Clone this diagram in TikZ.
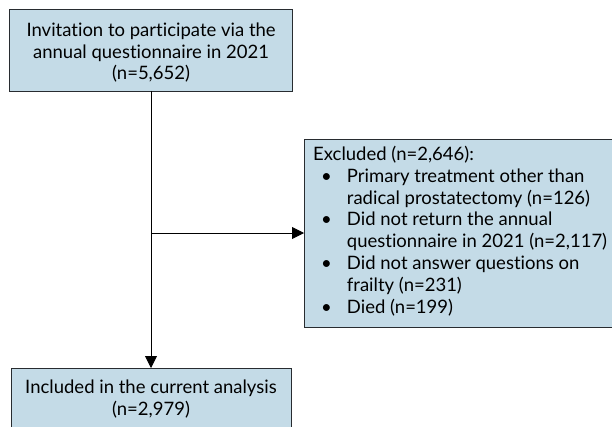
\documentclass[tikz,border=0pt]{standalone}
\usepackage{fontspec}
\setmainfont[Ligatures={NoCommon,NoRare,NoDiscretionary}]{Lato}
\usetikzlibrary{arrows.meta}
\definecolor{boxfill}{RGB}{196,219,231}
\definecolor{boxline}{RGB}{40,44,48}
\tikzset{
  flowbox/.style={draw=boxline, line width=1.2pt, fill=boxfill, rectangle, inner sep=0pt},
  flowtext/.style={font=\fontsize{18.5}{21.8}\selectfont, align=center, inner sep=0pt},
  conn/.style={line width=0.9pt, -{Triangle[length=12pt,width=12pt]}}
}
\begin{document}
\begin{tikzpicture}[x=1pt,y=1pt]
\useasboundingbox (0,0) rectangle (612,426);
\node[flowbox, minimum width=283pt, minimum height=82pt, anchor=north west] (top) at (9,417) {};
\node[flowtext] (toptext) at ([yshift=-2pt]top.center) {Invitation to participate via the\\annual questionnaire in 2021\\(n=5,652)};
\node[flowbox, minimum width=330pt, minimum height=188pt, anchor=north west] (excl) at (304,287) {};
\node[flowtext, align=left, anchor=north west] (excltext) at (313,281) {%
\begin{tabular}{@{\hspace{8pt}}l@{\hspace{15pt}}l@{}}
\multicolumn{2}{@{}l@{}}{Excluded (n=2,646):}\\
\textbullet & Primary treatment other than\\
 & radical prostatectomy (n=126)\\
\textbullet & Did not return the annual\\
 & questionnaire in 2021 (n=2,117)\\
\textbullet & Did not answer questions on\\
 & frailty (n=231)\\
\textbullet & Died (n=199)
\end{tabular}};
\node[flowbox, minimum width=280pt, minimum height=80pt, anchor=north west] (incl) at (11,58) {};
\node[flowtext, anchor=north] (incltext) at (151,46) {Included in the current analysis\\(n=2,979)};
\coordinate (split) at (151,193);
\draw[conn] (151,335) -- (151,58);
\draw[conn] (split) -- (excl.west |- split);
\end{tikzpicture}
\end{document}
